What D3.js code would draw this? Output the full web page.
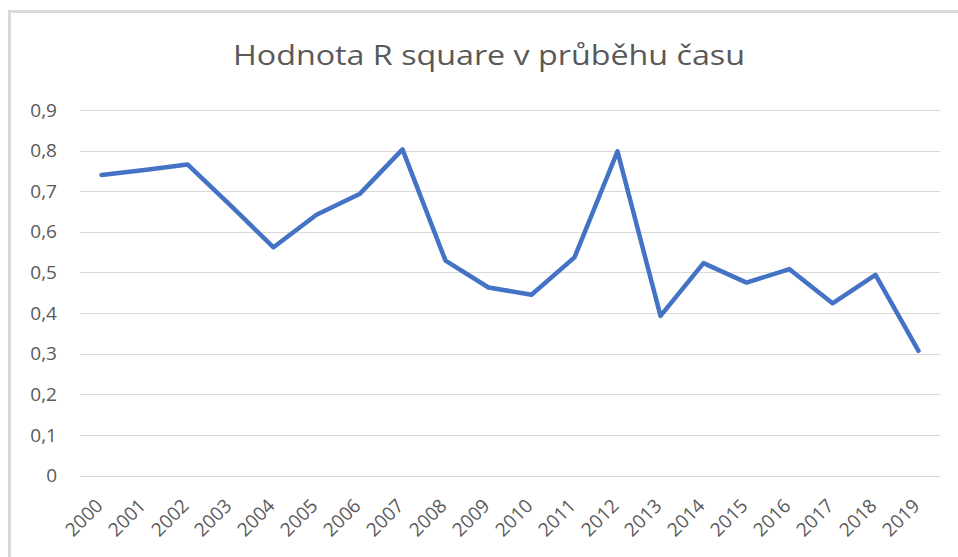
<!DOCTYPE html>
<html>
<head>
<meta charset="utf-8">
<script src="https://cdn.jsdelivr.net/npm/d3@7"></script>
<style>
  body { margin: 0; background: #fff; }
  svg { display: block; }
  .grid line { stroke: #d9d9d9; stroke-width: 1; }
  .tick-label { fill: #595959; font-family: "Open Sans", sans-serif; }
</style>
</head>
<body>
<div class="wrapper"></div>
<script>
var title = "Hodnota R square v průběhu času";
var years = ["2000", "2001", "2002", "2003", "2004", "2005", "2006", "2007", "2008", "2009",
  "2010", "2011", "2012", "2013", "2014", "2015", "2016", "2017", "2018", "2019"];
var rSquare = [0.740, 0.752, 0.766, 0.665, 0.562, 0.642, 0.693, 0.803, 0.529, 0.463,
  0.445, 0.537, 0.798, 0.393, 0.523, 0.475, 0.508, 0.424, 0.494, 0.307];
var yTicks = [0, 0.1, 0.2, 0.3, 0.4, 0.5, 0.6, 0.7, 0.8, 0.9];

var width = 958, height = 557;
var margin = { top: 110, right: 18, bottom: 81.5, left: 80 };

var svg = d3.select(".wrapper").append("svg")
  .attr("width", width)
  .attr("height", height);

// chart frame (runs off the right and bottom edges)
svg.append("rect")
  .attr("x", 9.5).attr("y", 11.5)
  .attr("width", 1000).attr("height", 600)
  .attr("fill", "none")
  .attr("stroke", "#d9d9d9")
  .attr("stroke-width", 3);

svg.append("text")
  .attr("x", 489).attr("y", 65)
  .attr("text-anchor", "middle")
  .attr("fill", "#595959")
  .attr("textLength", 512)
  .attr("lengthAdjust", "spacingAndGlyphs")
  .style("font-family", "'Open Sans', sans-serif")
  .style("font-size", "28px")
  .text(title);

var x = d3.scaleBand()
  .domain(years)
  .range([margin.left, width - margin.right]);

var y = d3.scaleLinear()
  .domain([0, 0.9])
  .range([height - margin.bottom, margin.top]);

// horizontal gridlines
var grid = svg.append("g").attr("class", "grid");
grid.selectAll("line")
  .data(yTicks)
  .join("line")
  .attr("x1", margin.left)
  .attr("x2", width - margin.right)
  .attr("y1", d => Math.round(y(d)) + 0.5)
  .attr("y2", d => Math.round(y(d)) + 0.5);

var fmt = d => d === 0 ? "0" : d3.format(".1f")(d).replace(".", ",");

svg.append("g")
  .selectAll("text")
  .data(yTicks)
  .join("text")
  .attr("class", "tick-label")
  .attr("x", 57)
  .attr("y", d => y(d))
  .attr("dy", "0.35em")
  .attr("text-anchor", "end")
  .style("font-size", "19px")
  .text(fmt);

svg.append("g")
  .selectAll("text")
  .data(years)
  .join("text")
  .attr("class", "tick-label")
  .attr("text-anchor", "end")
  .attr("transform", d => `translate(${x(d) + x.bandwidth() / 2 + 2.5},${height - margin.bottom + 31.5}) rotate(-45)`)
  .style("font-size", "19px")
  .text(d => d);

var line = d3.line()
  .x((d, i) => x(years[i]) + x.bandwidth() / 2)
  .y(d => y(d));

svg.append("path")
  .datum(rSquare)
  .attr("fill", "none")
  .attr("stroke", "#4472c4")
  .attr("stroke-width", 4.5)
  .attr("stroke-linejoin", "round")
  .attr("stroke-linecap", "round")
  .attr("d", line);
</script>
</body>
</html>
